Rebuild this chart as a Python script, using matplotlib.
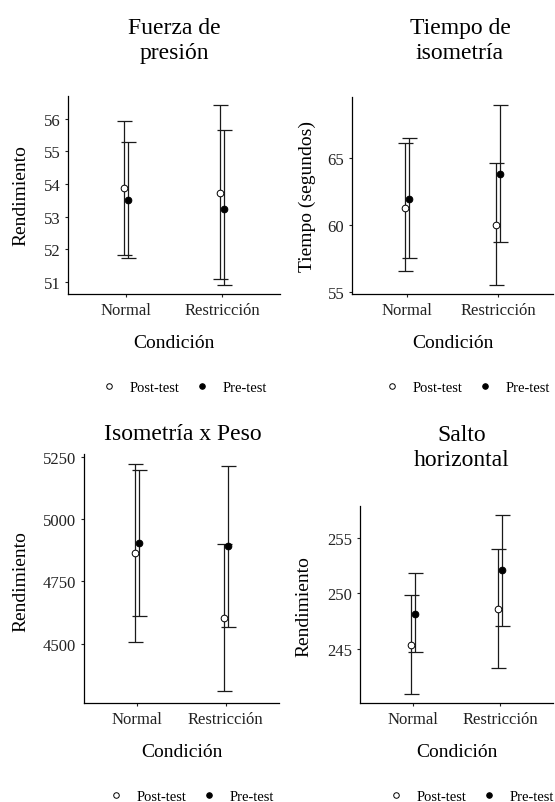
import matplotlib
matplotlib.use("Agg")
import matplotlib.pyplot as plt
from matplotlib.lines import Line2D

plt.rcParams['font.family'] = ['Liberation Serif', 'DejaVu Serif']

W, H = 555, 803

conditions = ['Normal', 'Restricción']
groups = ['Post-test', 'Pre-test']

# Fuerza de presión
fuerza_post = [53.88, 53.74]
fuerza_post_lo = [51.83, 51.10]
fuerza_post_hi = [55.92, 56.41]
fuerza_pre = [53.50, 53.25]
fuerza_pre_lo = [51.73, 50.91]
fuerza_pre_hi = [55.28, 55.66]

# Tiempo de isometría
tiempo_post = [61.27, 60.00]
tiempo_post_lo = [56.55, 55.53]
tiempo_post_hi = [66.09, 64.58]
tiempo_pre = [61.95, 63.80]
tiempo_pre_lo = [57.52, 58.72]
tiempo_pre_hi = [66.44, 68.87]

# Isometría x Peso
iso_post = [4865, 4603]
iso_post_lo = [4507, 4311]
iso_post_hi = [5219, 4899]
iso_pre = [4905, 4892]
iso_pre_lo = [4612, 4568]
iso_pre_hi = [5197, 5214]

# Salto horizontal
salto_post = [245.4, 248.6]
salto_post_lo = [241.0, 243.3]
salto_post_hi = [249.9, 254.0]
salto_pre = [248.2, 252.1]
salto_pre_lo = [244.7, 247.1]
salto_pre_hi = [251.8, 257.1]

panels = [
    dict(title='Fuerza de\npresión', ylabel='Rendimiento',
         post=(fuerza_post, fuerza_post_lo, fuerza_post_hi),
         pre=(fuerza_pre, fuerza_pre_lo, fuerza_pre_hi),
         yticks=[51, 52, 53, 54, 55, 56], ylim=(50.63, 56.7),
         box=(68, 97, 212, 198), title_xy=(174, 41), ylab_xy=(29, 196), leg_xy=(185, 388)),
    dict(title='Tiempo de\nisometría', ylabel='Tiempo (segundos)',
         post=(tiempo_post, tiempo_post_lo, tiempo_post_hi),
         pre=(tiempo_pre, tiempo_pre_lo, tiempo_pre_hi),
         yticks=[55, 60, 65], ylim=(54.88, 69.5),
         box=(352, 98, 201, 197), title_xy=(460, 41), ylab_xy=(316, 197), leg_xy=(468, 388)),
    dict(title='Isometría x Peso', ylabel='Rendimiento',
         post=(iso_post, iso_post_lo, iso_post_hi),
         pre=(iso_pre, iso_pre_lo, iso_pre_hi),
         yticks=[4500, 4750, 5000, 5250], ylim=(4263, 5261),
         box=(84, 455, 195, 249), title_xy=(183, 435), ylab_xy=(29, 582), leg_xy=(192, 797)),
    dict(title='Salto\nhorizontal', ylabel='Rendimiento',
         post=(salto_post, salto_post_lo, salto_post_hi),
         pre=(salto_pre, salto_pre_lo, salto_pre_hi),
         yticks=[245, 250, 255], ylim=(240.15, 257.87),
         box=(360, 507, 193, 197), title_xy=(462, 448), ylab_xy=(312, 607), leg_xy=(472, 797)),
]

fig = plt.figure(figsize=(W / 100, H / 100), dpi=100)

dodge = 0.0225
for p in panels:
    x0, y0, w, h = p['box']
    ax = fig.add_axes([x0 / W, (H - y0 - h) / H, w / W, h / H])
    for key, off, face in (('post', -dodge, 'white'), ('pre', dodge, 'black')):
        mean, lo, hi = p[key]
        xs = [i + 1 + off for i in range(len(conditions))]
        err = [[m - l for m, l in zip(mean, lo)], [u - m for m, u in zip(mean, hi)]]
        ax.errorbar(xs, mean, yerr=err, fmt='none', ecolor='#1a1a1a', elinewidth=0.9,
                    capsize=5.4, capthick=0.9, zorder=2)
        ax.plot(xs, mean, 'o', ms=4.8, mfc=face, mec='black', mew=0.7, zorder=3)
    ax.set_xlim(0.4, 2.6)
    ax.set_ylim(*p['ylim'])
    ax.set_xticks([1, 2])
    ax.set_xticklabels(conditions)
    ax.set_yticks(p['yticks'])
    for s in ('top', 'right'):
        ax.spines[s].set_visible(False)
    for s in ('left', 'bottom'):
        ax.spines[s].set_linewidth(0.9)
        ax.spines[s].set_color('black')
    ax.tick_params(length=2.5, width=0.8, labelsize=12, colors='#222222', pad=3)
    ax.set_xlabel('Condición', fontsize=14, labelpad=12)
    ax.set_ylabel(p['ylabel'], fontsize=14)
    ax.yaxis.set_label_coords(p['ylab_xy'][0] / W, 1 - p['ylab_xy'][1] / H, transform=fig.transFigure)
    fig.text(p['title_xy'][0] / W, 1 - p['title_xy'][1] / H, p['title'], fontsize=17,
             ha='center', va='center', linespacing=1.3)
    handles = [Line2D([], [], ls='none', marker='o', ms=4, mfc='white', mec='black', mew=0.7),
               Line2D([], [], ls='none', marker='o', ms=4, mfc='black', mec='black', mew=0.7)]
    ax.legend(handles, groups, loc='center', ncol=2, frameon=False, fontsize=10.5,
              bbox_to_anchor=(p['leg_xy'][0] / W, 1 - p['leg_xy'][1] / H),
              bbox_transform=fig.transFigure, handlelength=0.8, handletextpad=1.0,
              columnspacing=1.2, borderpad=0, borderaxespad=0)

fig.savefig('out.png', dpi=100)
